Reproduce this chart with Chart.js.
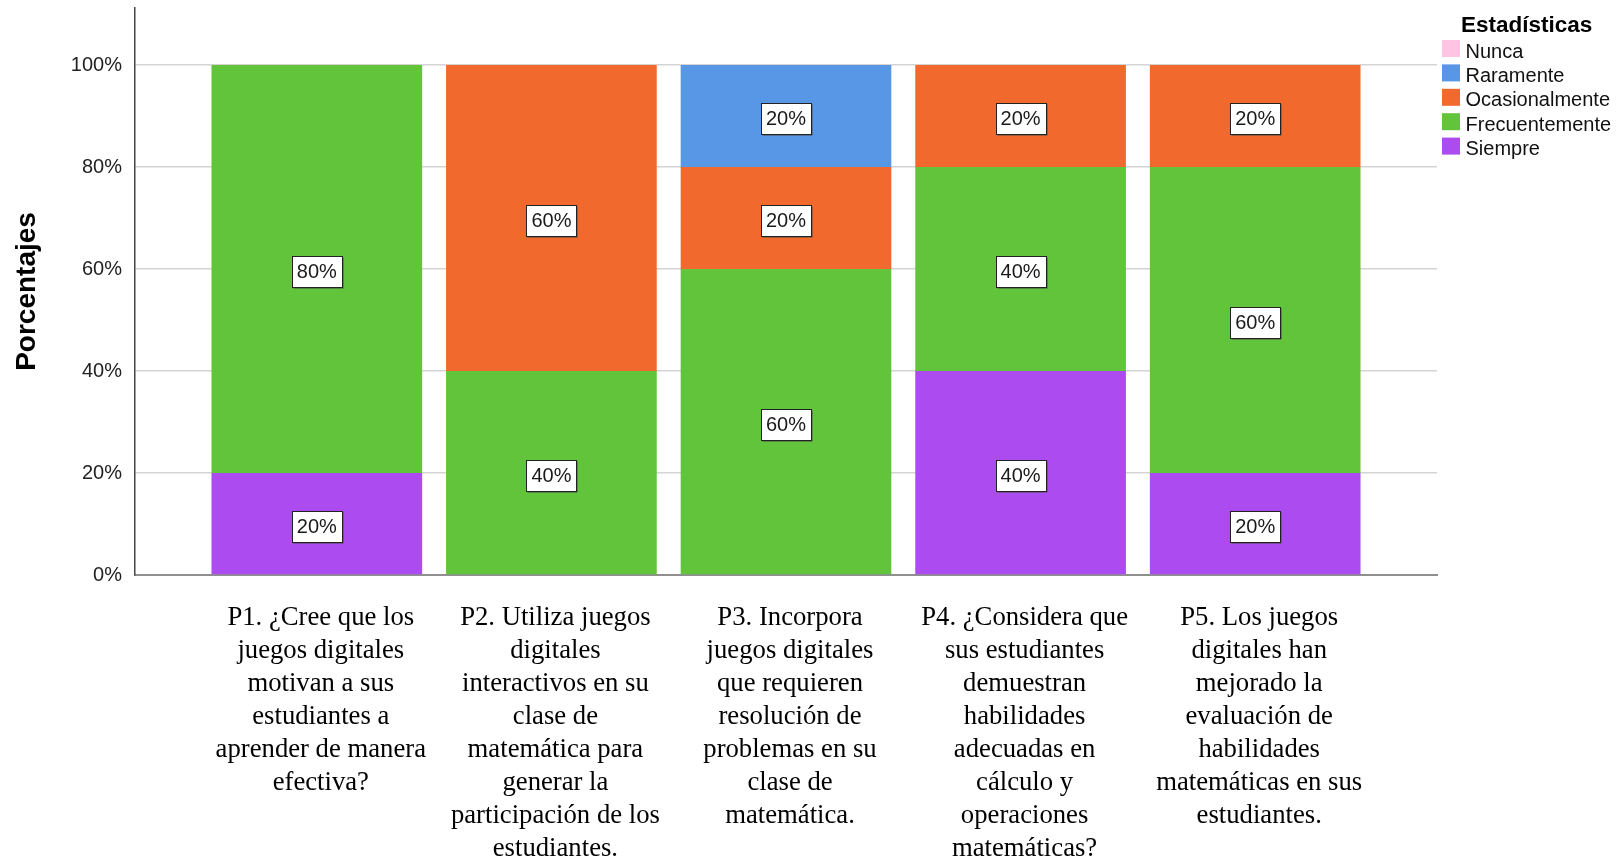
<!DOCTYPE html>
<html>
<head>
<meta charset="utf-8">
<title>Estadísticas</title>
<script src="https://cdn.jsdelivr.net/npm/chart.js@4.4.0/dist/chart.umd.min.js"></script>
<style>
  html, body { margin: 0; padding: 0; background: #ffffff; }
  canvas { display: block; }
</style>
</head>
<body>
<canvas id="chart" width="1623" height="862"></canvas>
<script>
// Question labels, one array of lines per question
const categories = [
  ["P1. ¿Cree que los", "juegos digitales", "motivan a sus", "estudiantes a", "aprender de manera", "efectiva?"],
  ["P2. Utiliza juegos", "digitales", "interactivos en su", "clase de", "matemática para", "generar la", "participación de los", "estudiantes."],
  ["P3. Incorpora", "juegos digitales", "que requieren", "resolución de", "problemas en su", "clase de", "matemática."],
  ["P4. ¿Considera que", "sus estudiantes", "demuestran", "habilidades", "adecuadas en", "cálculo y", "operaciones", "matemáticas?"],
  ["P5. Los juegos", "digitales han", "mejorado la", "evaluación de", "habilidades", "matemáticas en sus", "estudiantes."]
];

// Percentages per answer (stacked bottom to top)
const siempre        = [20, 0, 0, 40, 20];
const frecuentemente = [80, 40, 60, 40, 60];
const ocasionalmente = [0, 60, 20, 20, 20];
const raramente      = [0, 0, 20, 0, 0];
const nunca          = [0, 0, 0, 0, 0];

const seriesNames = ["Siempre", "Frecuentemente", "Ocasionalmente", "Raramente", "Nunca"];
const seriesValues = [siempre, frecuentemente, ocasionalmente, raramente, nunca];

const yTicks = [0, 20, 40, 60, 80, 100];
const legendTitle = "Estadísticas";
const yTitle = "Porcentajes";

const seriesColors = ["#AB4BF0", "#62C43B", "#F2692D", "#5897E5", "#FFC4E4"];

const datasets = seriesNames.map((name, s) => ({
  label: name,
  data: seriesValues[s].map((v, i) => ({ x: i, y: v })),
  backgroundColor: seriesColors[s],
  borderWidth: 0
}));

// Boxed percentage labels in the middle of each segment
const boxLabels = {
  id: "boxLabels",
  afterDatasetsDraw(chart) {
    const ctx = chart.ctx;
    ctx.save();
    ctx.font = '20px "Liberation Sans"';
    ctx.textAlign = "center";
    ctx.textBaseline = "middle";
    chart.data.datasets.forEach((ds, di) => {
      const meta = chart.getDatasetMeta(di);
      meta.data.forEach((bar, i) => {
        const v = ds.data[i].y;
        if (!v) return;
        const p = bar.getProps(["x", "y", "base"], true);
        const cy = (p.y + p.base) / 2 + 2.5;
        const text = v + "%";
        const w = Math.round(ctx.measureText(text).width) + 10;
        const h = 31;
        const left = Math.round(p.x - w / 2) + 0.5;
        const top = Math.round(cy - h / 2) + 0.5;
        ctx.fillStyle = "#4a4a4a";
        ctx.fillRect(left + 1, top + 1, w, h);
        ctx.fillStyle = "#ffffff";
        ctx.fillRect(left, top, w, h);
        ctx.strokeStyle = "#222222";
        ctx.lineWidth = 1;
        ctx.strokeRect(left, top, w, h);
        ctx.fillStyle = "#1a1a1a";
        ctx.fillText(text, p.x, cy + 1);
      });
    });
    ctx.restore();
  }
};

// Legend with title at the top right, listed top-down from Nunca to Siempre
const sideLegend = {
  id: "sideLegend",
  afterDraw(chart) {
    const ctx = chart.ctx;
    const x0 = chart.chartArea.right + 5;
    ctx.save();
    ctx.textAlign = "left";
    ctx.textBaseline = "alphabetic";
    ctx.fillStyle = "#000000";
    ctx.font = 'bold 22.5px "Liberation Sans"';
    ctx.fillText(legendTitle, x0 + 19, 31.5);
    ctx.font = '20px "Liberation Sans"';
    chart.data.datasets.slice().reverse().forEach((ds, k) => {
      const cy = 48.5 + k * 24.4;
      ctx.fillStyle = ds.backgroundColor;
      ctx.fillRect(x0, cy - 8.5, 18, 17);
      ctx.fillStyle = "#111111";
      ctx.fillText(ds.label, x0 + 23.5, cy + 9);
    });
    ctx.restore();
  }
};

new Chart(document.getElementById("chart"), {
  type: "bar",
  data: { datasets },
  plugins: [boxLabels, sideLegend],
  options: {
    responsive: false,
    animation: false,
    layout: { padding: { top: 8, right: 186, left: 0, bottom: 0 } },
    plugins: {
      legend: { display: false },
      tooltip: { enabled: false }
    },
    datasets: {
      bar: { categoryPercentage: 1, barPercentage: 0.898 }
    },
    scales: {
      x: {
        type: "linear",
        stacked: true,
        min: -0.775,
        max: 4.775,
        offset: false,
        grid: { display: false, drawTicks: false },
        border: { display: true, color: "#8f8f8f", width: 2 },
        afterBuildTicks: (s) => { s.ticks = categories.map((_, i) => ({ value: i })); },
        afterFit: (s) => { s.height = 287; s.paddingLeft = 0; s.paddingRight = 0; },
        ticks: {
          autoSkip: false,
          maxRotation: 0,
          minRotation: 0,
          padding: 26,
          labelOffset: 4,
          color: "#000000",
          font: { family: "Liberation Serif", size: 26.7, lineHeight: 1.24 },
          callback: (v) => categories[v] || ""
        }
      },
      y: {
        stacked: true,
        min: 0,
        max: 111.2,
        afterBuildTicks: (s) => { s.ticks = yTicks.map((v) => ({ value: v })); },
        afterFit: (s) => { s.width = 135; s.paddingTop = 0; s.paddingBottom = 0; },
        grid: {
          color: (c) => (c.tick && c.tick.value === 0 ? "rgba(0,0,0,0)" : "#d4d4d4"),
          lineWidth: 1.5,
          drawTicks: false
        },
        border: { display: true, color: "#444444", width: 1.5 },
        ticks: {
          padding: 13,
          color: "#222222",
          font: { family: "Liberation Sans", size: 20 },
          callback: (v) => v + "%"
        },
        title: {
          display: true,
          text: yTitle,
          color: "#000000",
          font: { family: "Liberation Sans", size: 28, weight: "bold", lineHeight: 1.2 },
          padding: { top: 10, bottom: 0 }
        }
      }
    }
  }
});
</script>
</body>
</html>
